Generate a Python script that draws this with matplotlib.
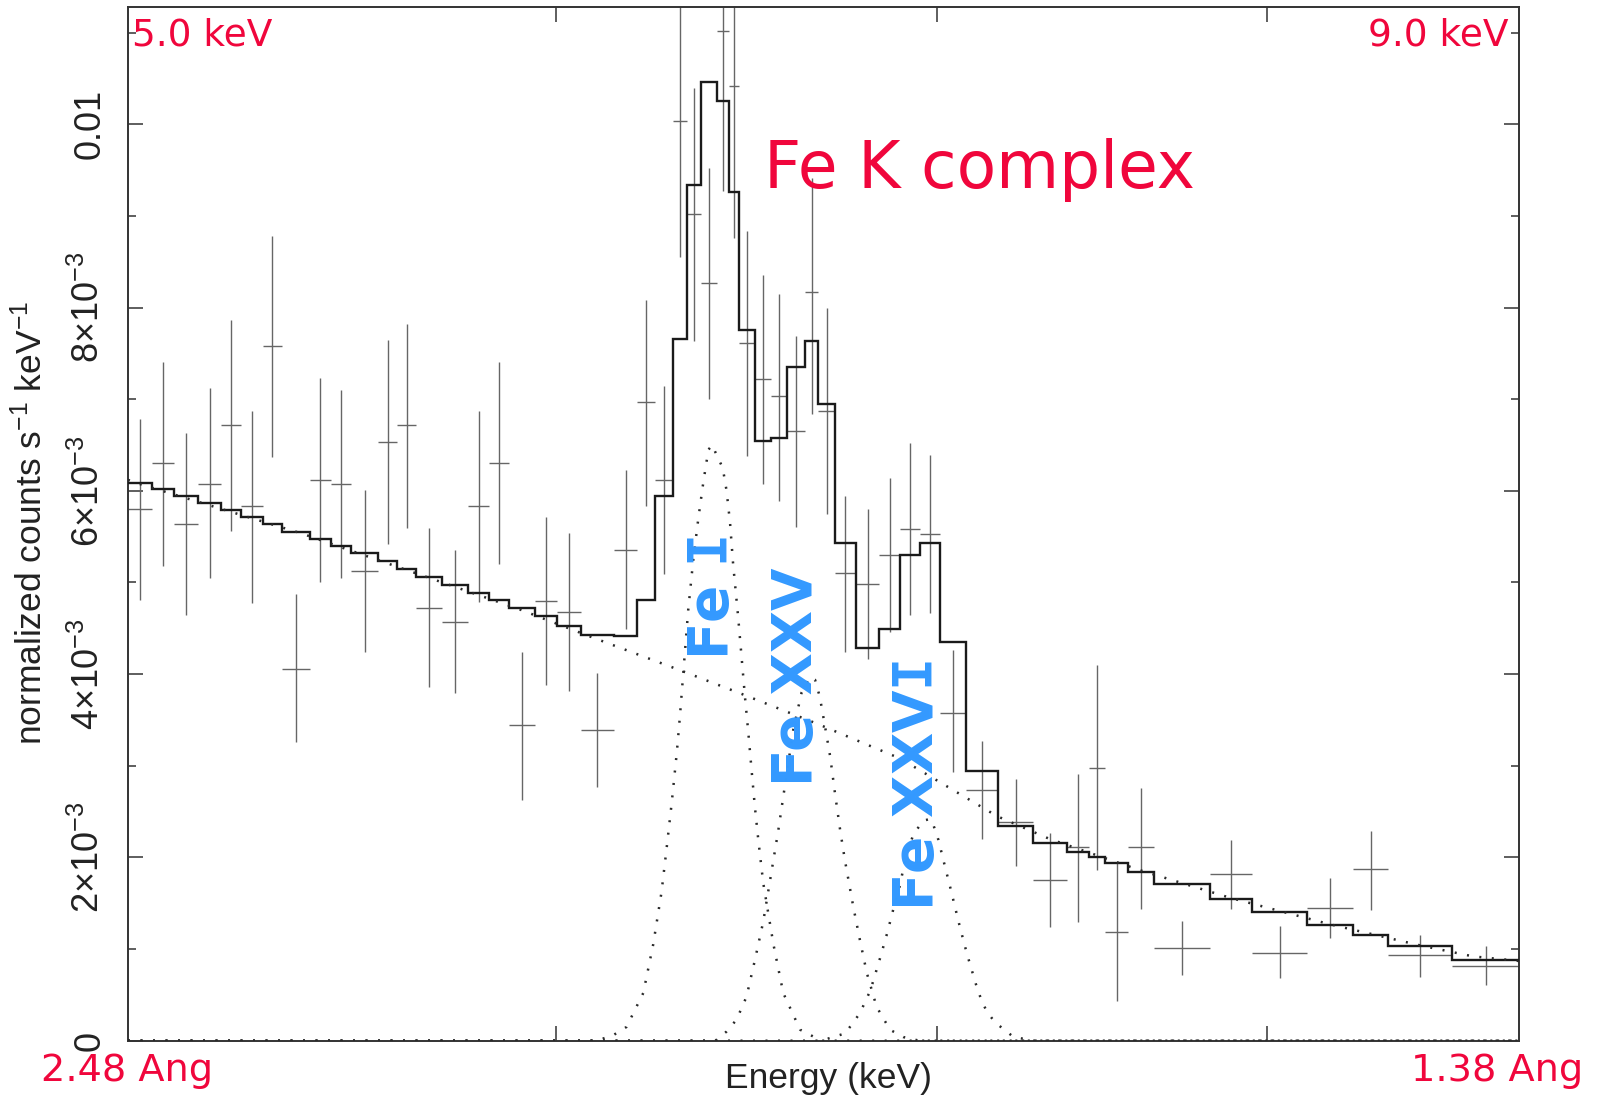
import numpy as np
import matplotlib
matplotlib.use("Agg")
from matplotlib import pyplot as plt
from matplotlib.ticker import MultipleLocator, NullLocator

# grouped spectral bins (keV); data and folded model share the same grouping
edges = [5.047, 5.096, 5.141, 5.192, 5.241, 5.284, 5.330, 5.371, 5.433, 5.478,
         5.524, 5.584, 5.628, 5.671, 5.730, 5.791, 5.840, 5.888, 5.950, 6.003,
         6.061, 6.143, 6.201, 6.246, 6.292, 6.326, 6.363, 6.403, 6.434, 6.461,
         6.502, 6.545, 6.589, 6.636, 6.672, 6.717, 6.774, 6.838, 6.896, 6.952,
         7.008, 7.082, 7.176, 7.277, 7.377, 7.445, 7.492, 7.563, 7.642, 7.817,
         7.952, 8.129, 8.283, 8.399, 8.621, 8.857]

# everything below in units of 1e-3 counts/s/keV
model = [6.09, 6.02, 5.94, 5.87, 5.79, 5.72, 5.64, 5.55, 5.47, 5.40,
         5.32, 5.23, 5.15, 5.06, 4.97, 4.88, 4.81, 4.72, 4.63, 4.53,
         4.43, 4.42, 4.81, 5.94, 7.66, 9.34, 10.46, 10.25, 9.26, 7.76,
         6.54, 6.58, 7.35, 7.63, 6.95, 5.43, 4.28, 4.49, 5.30, 5.43,
         4.35, 2.94, 2.34, 2.16, 2.06, 2.00, 1.94, 1.84, 1.71, 1.55,
         1.40, 1.26, 1.15, 1.03, 0.88]

counts = [5.80, 6.30, 5.64, 6.08, 6.72, 5.83, 7.58, 4.06, 6.12, 6.07,
          5.13, 6.53, 6.72, 4.72, 4.57, 5.83, 6.30, 3.44, 4.80, 4.68,
          3.39, 5.36, 6.97, 6.12, 10.04, 9.02, 8.27, 11.02, 10.42, 7.61,
          7.22, 7.03, 6.65, 8.17, 6.87, 5.10, 4.98, 5.30, 5.58, 5.53,
          3.58, 2.74, 2.39, 1.75, 2.11, 2.98, 1.19, 2.11, 1.01, 1.82,
          0.96, 1.45, 1.87, 0.93, 0.82]

counts_hi = [6.78, 7.41, 6.63, 7.12, 7.86, 6.87, 8.78, 4.87, 7.23, 7.10,
             6.01, 7.65, 7.82, 5.59, 5.36, 6.87, 7.41, 4.24, 5.72, 5.54,
             4.01, 6.23, 8.08, 7.14, 11.53, 10.40, 9.52, 12.77, 12.08, 8.84,
             8.36, 8.15, 7.69, 9.41, 7.99, 5.94, 5.80, 6.14, 6.52, 6.39,
             4.26, 3.27, 2.86, 2.27, 2.91, 4.10, 1.95, 2.76, 1.31, 2.19,
             1.25, 1.78, 2.29, 1.15, 1.03]

counts_lo = [4.81, 5.18, 4.64, 5.05, 5.56, 4.78, 6.37, 3.26, 5.00, 5.05,
             4.24, 5.42, 5.60, 3.86, 3.79, 4.79, 5.20, 2.63, 3.88, 3.82,
             2.77, 4.49, 5.83, 5.09, 8.55, 7.63, 7.00, 9.27, 8.76, 6.38,
             6.08, 5.89, 5.61, 6.84, 5.75, 4.24, 4.16, 4.46, 4.64, 4.67,
             2.93, 2.20, 1.91, 1.24, 1.30, 1.86, 0.43, 1.44, 0.72, 1.44,
             0.68, 1.12, 1.43, 0.70, 0.61]

# continuum component
cont_e = [5.047, 5.074, 5.411, 5.911, 6.084, 6.317, 6.477, 6.668, 6.896,
          7.172, 7.327, 7.599, 7.880, 8.205, 8.510, 8.694, 8.857]
cont_v = [6.12, 6.07, 5.54, 4.71, 4.41, 4.03, 3.77, 3.46, 3.08,
          2.45, 2.20, 1.86, 1.56, 1.27, 1.04, 0.92, 0.87]

# line components
fe1_e = [5.047, 6.10, 6.141, 6.174, 6.216, 6.241, 6.262, 6.275, 6.288, 6.301,
         6.309, 6.319, 6.330, 6.343, 6.356, 6.369, 6.382, 6.392, 6.399, 6.419,
         6.429, 6.438, 6.446, 6.459, 6.468, 6.477, 6.486, 6.495, 6.503, 6.512,
         6.525, 6.552, 6.578, 6.623, 6.68, 8.857]
fe1_v = [0.0, 0.0, 0.06, 0.15, 0.52, 1.05, 1.62, 2.10, 2.60, 3.15,
         3.55, 4.10, 4.70, 5.25, 5.70, 6.10, 6.45, 6.50, 6.43, 6.25,
         6.00, 5.65, 5.20, 4.63, 4.19, 3.75, 3.35, 2.92, 2.55, 2.19,
         1.72, 1.05, 0.52, 0.12, 0.0, 0.0]

fe25_e = [5.047, 6.40, 6.429, 6.455, 6.481, 6.503, 6.525, 6.545, 6.565, 6.583,
          6.605, 6.627, 6.650, 6.663, 6.676, 6.690, 6.704, 6.717, 6.731, 6.744,
          6.767, 6.785, 6.804, 6.831, 6.868, 6.905, 6.95, 8.857]
fe25_v = [0.0, 0.0, 0.10, 0.23, 0.48, 0.88, 1.30, 1.80, 2.30, 2.80,
          3.40, 3.80, 3.97, 3.94, 3.75, 3.43, 3.10, 2.70, 2.30, 1.97,
          1.46, 1.10, 0.74, 0.37, 0.12, 0.04, 0.0, 0.0]

fe26_e = [5.047, 6.68, 6.704, 6.745, 6.785, 6.814, 6.842, 6.860, 6.879, 6.896,
          6.910, 6.933, 6.961, 6.980, 6.990, 7.004, 7.018, 7.037, 7.051, 7.065,
          7.085, 7.113, 7.127, 7.142, 7.166, 7.220, 7.28, 8.857]
fe26_v = [0.0, 0.0, 0.03, 0.08, 0.30, 0.55, 0.92, 1.17, 1.46, 1.70,
          1.97, 2.25, 2.40, 2.42, 2.35, 2.19, 1.97, 1.68, 1.46, 1.24,
          0.95, 0.59, 0.44, 0.32, 0.20, 0.04, 0.0, 0.0]

ytick_vals = [0, 2e-3, 4e-3, 6e-3, 8e-3, 0.01]
ytick_text = ['0', r'$2{\times}10^{-3}$', r'$4{\times}10^{-3}$',
              r'$6{\times}10^{-3}$', r'$8{\times}10^{-3}$', '0.01']

W, H = 1602, 1099
RED = '#f0063c'
BLUE = '#3399ff'

plt.rcParams['font.family'] = ['Liberation Sans', 'DejaVu Sans']
plt.rcParams['mathtext.fontset'] = 'custom'
plt.rcParams['mathtext.rm'] = 'Liberation Sans'
plt.rcParams['mathtext.it'] = 'Liberation Sans:italic'
plt.rcParams['mathtext.tt'] = 'DejaVu Sans Mono:bold'
plt.rcParams['mathtext.default'] = 'regular'


def fpos(x, y):
	# pixel position -> figure fraction
	return x / W, 1 - y / H


def main():
	fig = plt.figure(figsize=(W / 100, H / 100), dpi=100)
	ax = fig.add_axes([128 / W, 1 - 1040.7 / H, (1519 - 128) / W, (1040.7 - 7) / H])

	e = np.array(edges)
	lo, hi = e[:-1], e[1:]
	mid = (lo + hi) / 2
	k = 1e-3
	y = np.array(counts) * k
	y_hi = np.array(counts_hi) * k
	y_lo = np.array(counts_lo) * k

	ax.errorbar(mid, y, xerr=(hi - lo) / 2, yerr=[y - y_lo, y_hi - y],
				fmt='none', ecolor='#666666', elinewidth=1.0, capsize=0, zorder=2)
	ax.stairs(np.array(model) * k, e, baseline=None, color='#1a1a1a',
			  linewidth=1.7, zorder=3)

	dotted = dict(ls=(0, (0.8, 4.2)), lw=1.8, color='#2a2a2a', zorder=4)
	ax.plot(cont_e, np.array(cont_v) * k, **dotted)
	ax.plot(fe1_e, np.array(fe1_v) * k, **dotted)
	ax.plot(fe25_e, np.array(fe25_v) * k, **dotted)
	ax.plot(fe26_e, np.array(fe26_v) * k, **dotted)

	ax.set_xscale('log')
	ax.set_xlim(5.047, 8.857)
	ax.set_ylim(0, 0.01128)
	ax.set_xticks([6, 7, 8])
	ax.set_xticklabels([])
	ax.xaxis.set_minor_locator(NullLocator())
	ax.set_yticks(ytick_vals)
	ax.set_yticklabels(ytick_text)
	ax.yaxis.set_minor_locator(MultipleLocator(1e-3))
	ax.tick_params(which='both', direction='in', top=True, right=True,
				   color='#333333', width=1.1)
	ax.tick_params(which='major', length=10.8, pad=15, labelsize=26,
				   labelcolor='#222222')
	ax.tick_params(which='minor', length=5.8)
	plt.setp(ax.get_yticklabels(), rotation=90, va='center', ha='right')
	for s in ax.spines.values():
		s.set_linewidth(1.4)
		s.set_color('#333333')

	fig.text(*fpos(828, 1088), 'Energy (keV)', fontsize=25.5, color='#222222',
			 ha='center', va='baseline')
	fig.text(*fpos(31, 523), r'normalized counts s$^{-1}$ keV$^{-1}$', fontsize=25.5,
			 color='#222222', rotation=90, ha='center', va='center')

	red = dict(color=RED, family='DejaVu Sans', va='baseline')
	fig.text(*fpos(132, 46), '5.0 keV', fontsize=27, ha='left', **red)
	fig.text(*fpos(1508, 46), '9.0 keV', fontsize=27, ha='right', **red)
	fig.text(*fpos(41, 1081), '2.48 Ang', fontsize=27.5, ha='left', **red)
	fig.text(*fpos(1583, 1081), '1.38 Ang', fontsize=27.5, ha='right', **red)
	fig.text(*fpos(764, 188), 'Fe K complex', fontsize=46.5, ha='left', **red)

	# the I of each label comes from the mono face, which has serifs
	blue = dict(color=BLUE, family='DejaVu Sans', weight='bold', fontsize=39.5,
				rotation=90, ha='center', va='center')
	fig.text(*fpos(713, 598), r'Fe $\mathtt{I}$', **blue)
	fig.text(*fpos(797, 677), 'Fe XXV', **blue)
	fig.text(*fpos(918, 785), r'Fe XXV$\mathtt{I}$', **blue)

	fig.savefig('out.png', dpi=100, facecolor='white')


if __name__ == '__main__':
	main()
